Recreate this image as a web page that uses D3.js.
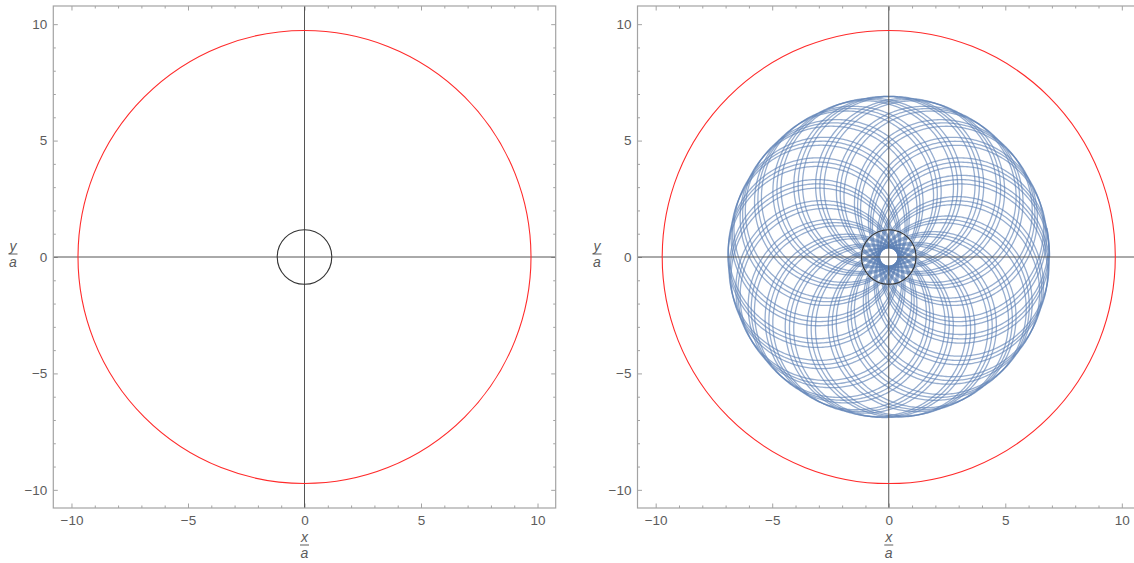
<!DOCTYPE html>
<html><head><meta charset="utf-8">
<script src="https://cdn.jsdelivr.net/npm/d3@7"></script>
<style>
body{margin:0;background:#fff}
svg{display:block}
text{font-family:"Liberation Sans",Arial,sans-serif}
</style>
</head><body>
<svg id="chart" width="1134" height="563"></svg>
<script>
// Tick values shared by both panels
const majorTicks = [-10, -5, 0, 5, 10];
const minorTicks = [-9, -8, -7, -6, -4, -3, -2, -1, 1, 2, 3, 4, 6, 7, 8, 9];
const axisDomain = [-10.78, 10.78];

// Reference circles (units of a)
const outerCircleRadius = [9.72];
const innerCircleRadius = [1.17];

// Precessing orbit: farthest / closest distance, number of loops,
// precession per loop (rad), starting orientation
const orbitApocentre = [6.9];
const orbitPericentre = [0.4];
const orbitLoops = [63];
const orbitPrecession = [0.30206];
const orbitStartAngle = [0.0];

const svg = d3.select("#chart");
const frameColor = "#a3a3a3";
const labelColor = "#5c5c5c";

const panels = [
  { x0: 53.3, x1: 555.7, labelX: 13, orbit: false },
  { x0: 637.5, x1: 1140.0, labelX: 597, orbit: true }
];
const yTop = 6, yBottom = 508;

const fmt = d => d < 0 ? "\u2212" + Math.abs(d) : String(d);

function orbitLoopsData() {
  const rA = orbitApocentre[0], rP = orbitPericentre[0];
  const R = (rA + rP) / 2, c = (rA - rP) / 2;
  const n = orbitLoops[0], eps = orbitPrecession[0], b0 = orbitStartAngle[0];
  const steps = 360;
  const loops = [];
  for (let k = 0; k < n; k++) {
    const pts = [];
    for (let i = 0; i <= steps; i++) {
      const s = 2 * Math.PI * i / steps;
      const beta = b0 + eps * (k + i / steps);
      pts.push([c * Math.cos(beta) + R * Math.cos(beta + s),
                c * Math.sin(beta) + R * Math.sin(beta + s)]);
    }
    loops.push(pts);
  }
  return loops;
}

panels.forEach(p => {
  const x = d3.scaleLinear().domain(axisDomain).range([p.x0, p.x1]);
  const y = d3.scaleLinear().domain(axisDomain).range([yBottom, yTop]);
  const g = svg.append("g");

  // frame ticks
  const addAxis = (axisFn, transform, values, size, labels) => {
    const a = axisFn.tickValues(values).tickSize(-size).tickSizeOuter(0).tickPadding(6)
      .tickFormat(labels ? fmt : "");
    const ag = g.append("g").attr("transform", transform).call(a);
    ag.select(".domain").remove();
    ag.selectAll("line").attr("stroke", frameColor).attr("stroke-width", 1);
    ag.selectAll("text").attr("fill", labelColor).attr("font-size", 13.5)
      .attr("font-family", "'Liberation Sans', Arial, sans-serif");
    return ag;
  };
  addAxis(d3.axisBottom(x), `translate(0,${yBottom})`, majorTicks, 4.5, true)
    .selectAll("text").attr("dy", "0.71em").attr("y", 7);
  addAxis(d3.axisBottom(x), `translate(0,${yBottom})`, minorTicks, 2.5, false);
  addAxis(d3.axisTop(x), `translate(0,${yTop})`, majorTicks, 4.5, false);
  addAxis(d3.axisTop(x), `translate(0,${yTop})`, minorTicks, 2.5, false);
  addAxis(d3.axisLeft(y), `translate(${p.x0},0)`, majorTicks, 4.5, true);
  addAxis(d3.axisLeft(y), `translate(${p.x0},0)`, minorTicks, 2.5, false);
  addAxis(d3.axisRight(y), `translate(${p.x1},0)`, majorTicks, 4.5, false);
  addAxis(d3.axisRight(y), `translate(${p.x1},0)`, minorTicks, 2.5, false);

  // plot area clip
  const clipId = "clip" + Math.round(p.x0);
  svg.append("clipPath").attr("id", clipId).append("rect")
    .attr("x", p.x0).attr("y", yTop).attr("width", p.x1 - p.x0).attr("height", yBottom - yTop);
  const plot = g.append("g").attr("clip-path", `url(#${clipId})`);

  if (p.orbit) {
    const line = d3.line().x(d => x(d[0])).y(d => y(d[1]));
    plot.append("g").selectAll("path").data(orbitLoopsData()).join("path")
      .attr("d", line).attr("fill", "none")
      .attr("stroke", "#5e81b5").attr("stroke-width", 1.3).attr("stroke-opacity", 0.65);
  }

  // axes through origin
  plot.append("line").attr("x1", p.x0).attr("x2", p.x1).attr("y1", y(0)).attr("y2", y(0))
    .attr("stroke", "#555").attr("stroke-width", 1);
  plot.append("line").attr("x1", x(0)).attr("x2", x(0)).attr("y1", yTop).attr("y2", yBottom)
    .attr("stroke", "#555").attr("stroke-width", 1);

  // circles
  plot.selectAll("circle.outer").data(outerCircleRadius).join("circle")
    .attr("cx", x(0)).attr("cy", y(0)).attr("r", d => x(d) - x(0))
    .attr("fill", "none").attr("stroke", "#ff2a2a").attr("stroke-width", 1.1);
  plot.selectAll("circle.inner").data(innerCircleRadius).join("circle")
    .attr("cx", x(0)).attr("cy", y(0)).attr("r", d => x(d) - x(0))
    .attr("fill", "none").attr("stroke", "#333").attr("stroke-width", 1.1);

  // frame
  g.append("rect").attr("x", p.x0).attr("y", yTop).attr("width", p.x1 - p.x0).attr("height", yBottom - yTop)
    .attr("fill", "none").attr("stroke", frameColor).attr("stroke-width", 1.2);

  // fraction labels
  const frac = (cx, cy, num) => {
    const fg = g.append("g").attr("fill", labelColor).attr("font-size", 14)
      .attr("font-style", "italic").attr("text-anchor", "middle");
    fg.append("text").attr("x", cx).attr("y", cy - 3).text(num);
    fg.append("line").attr("x1", cx - 4.5).attr("x2", cx + 4.5).attr("y1", cy).attr("y2", cy)
      .attr("stroke", labelColor).attr("stroke-width", 1);
    fg.append("text").attr("x", cx).attr("y", cy + 13).text("a");
  };
  frac(x(0), 545, "x");
  frac(p.labelX, 254, "y");
});
</script>
</body></html>
